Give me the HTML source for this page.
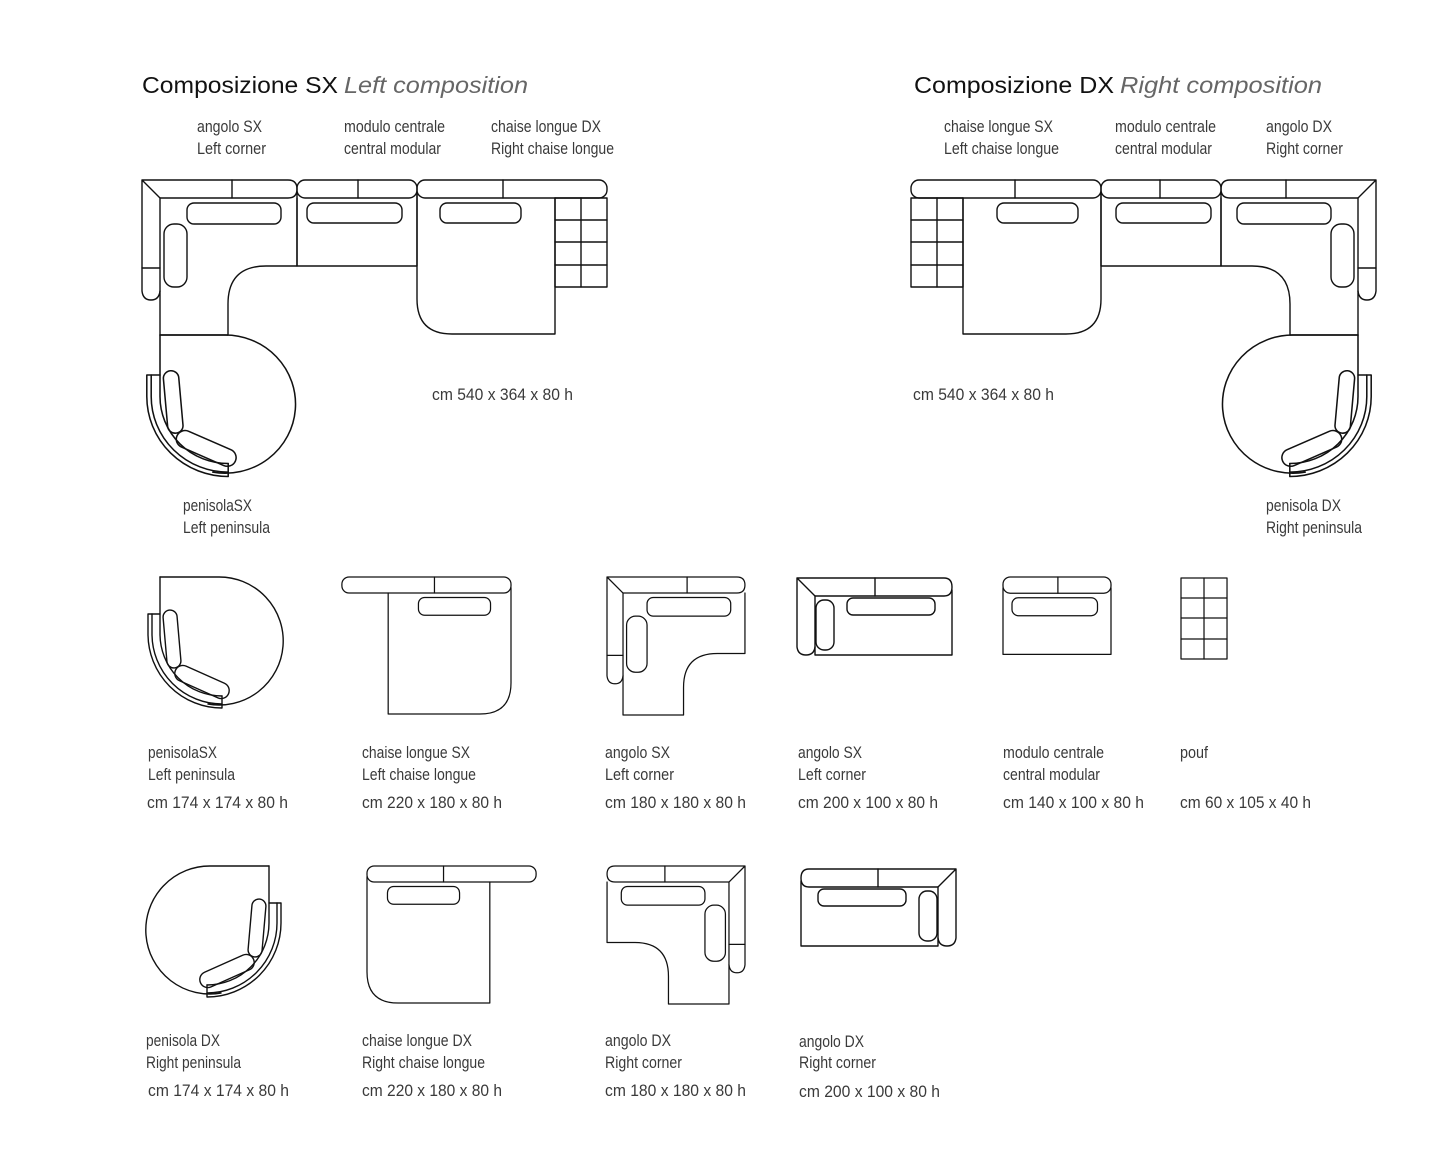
<!DOCTYPE html>
<html><head><meta charset="utf-8">
<style>
html,body{margin:0;padding:0;background:#fff;}
svg{display:block;}
.l{fill:none;stroke:#111;stroke-width:1.4;stroke-linejoin:round;stroke-linecap:round;}
.l *{vector-effect:non-scaling-stroke;}
.t{font-family:"Liberation Sans Narrow","Liberation Sans",sans-serif;font-size:17px;fill:#3a3a3a;}
.h{font-family:"Liberation Sans",sans-serif;font-size:23px;fill:#111;}
.hi{font-family:"Liberation Sans",sans-serif;font-size:23px;font-style:italic;fill:#666;}
</style></head>
<body>
<svg width="1455" height="1158" viewBox="0 0 1455 1158" xmlns="http://www.w3.org/2000/svg">
<defs>
  <g id="A">
    <path d="M0,0 H146 Q155,0 155,9 Q155,18 146,18 H18 L0,0 V111 Q1,120 9,120 Q17,120 18,111"/>
    <path d="M0,88 H18 M90,0 V18"/>
    <path d="M18,18 V155 H86 V124 Q86,86 124,86 H155 V18"/>
    <rect x="45" y="23" width="94" height="21" rx="7"/>
    <rect x="22" y="44" width="23" height="63" rx="10"/>
  </g>
  <g id="M">
    <rect x="0" y="0" width="120" height="18" rx="8"/>
    <path d="M0,12 V86 H120 V12 M61,0 V18"/>
    <rect x="10" y="23" width="95" height="20" rx="7"/>
  </g>
  <g id="C">
    <rect x="0" y="0" width="190" height="18" rx="8"/>
    <path d="M86,0 V18 M0,12 V119 Q0,154 35,154 H138 V18"/>
    <rect x="23" y="23" width="81" height="20" rx="7"/>
  </g>
  <g id="P">
    <rect x="0" y="0" width="52" height="89"/>
    <path d="M26,0 V89 M0,22 H52 M0,44 H52 M0,67 H52"/>
  </g>
  <g id="N">
    <path d="M0,0 H58 A64,64 0 1 1 48,127"/>
    <path d="M0,0 V57 A62,62 0 0 0 62,119"/>
    <path d="M-8,37 V57 A70,70 0 0 0 62,127"/>
    <path d="M-12,37 V57 A74,74 0 0 0 62,131 V119 M-12,37 H0"/>
    <rect x="5" y="33" width="14" height="58" rx="7" transform="rotate(-5 12 62)"/>
    <rect x="-29" y="-8" width="58" height="16" rx="8" transform="translate(42,105) rotate(24)"/>
  </g>
  <g id="B">
    <path d="M0,0 H147 Q155,0 155,9 Q155,18 147,18 H18 L0,0 V69 Q1,77 9,77 Q17,77 18,69"/>
    <path d="M18,18 V77 H155 V12 M78,0 V18"/>
    <rect x="19" y="22" width="18" height="50" rx="8"/>
    <rect x="50" y="20" width="88" height="17" rx="6"/>
  </g>
  <g id="GSX">
    <use href="#A" transform="translate(142,180)"/>
    <use href="#M" transform="translate(297,180)"/>
    <use href="#C" transform="translate(417,180)"/>
    <use href="#P" transform="translate(555,198)"/>
    <use href="#N" transform="translate(160,335) scale(1.1,1.08)"/>
  </g>
</defs>

<g class="l">
  <use href="#GSX"/>
  <use href="#GSX" transform="translate(1518,0) scale(-1,1)"/>
  <use href="#N" transform="translate(160,577)"/>
  <use href="#C" transform="translate(511,577) scale(-0.89,0.89)"/>
  <use href="#A" transform="translate(607,577) scale(0.89)"/>
  <use href="#B" transform="translate(797,578)"/>
  <use href="#M" transform="translate(1003,577) scale(0.9)"/>
  <use href="#P" transform="translate(1181,578) scale(0.885,0.91)"/>
  <use href="#N" transform="translate(269,866) scale(-1,1)"/>
  <use href="#C" transform="translate(367,866) scale(0.89)"/>
  <use href="#A" transform="translate(745,866) scale(-0.89,0.89)"/>
  <use href="#B" transform="translate(956,869) scale(-1,1)"/>
</g>

<text class="h" x="142" y="93" textLength="196" lengthAdjust="spacingAndGlyphs">Composizione SX</text>
<text class="hi" x="344" y="93" textLength="184" lengthAdjust="spacingAndGlyphs">Left composition</text>
<text class="h" x="914" y="93" textLength="200" lengthAdjust="spacingAndGlyphs">Composizione DX</text>
<text class="hi" x="1120" y="93" textLength="202" lengthAdjust="spacingAndGlyphs">Right composition</text>

<g class="t">
<text x="197" y="132" textLength="65" lengthAdjust="spacingAndGlyphs">angolo SX</text>
<text x="197" y="154" textLength="69" lengthAdjust="spacingAndGlyphs">Left corner</text>
<text x="344" y="132" textLength="101" lengthAdjust="spacingAndGlyphs">modulo centrale</text>
<text x="344" y="154" textLength="97" lengthAdjust="spacingAndGlyphs">central modular</text>
<text x="491" y="132" textLength="110" lengthAdjust="spacingAndGlyphs">chaise longue DX</text>
<text x="491" y="154" textLength="123" lengthAdjust="spacingAndGlyphs">Right chaise longue</text>

<text x="944" y="132" textLength="109" lengthAdjust="spacingAndGlyphs">chaise longue SX</text>
<text x="944" y="154" textLength="115" lengthAdjust="spacingAndGlyphs">Left chaise longue</text>
<text x="1115" y="132" textLength="101" lengthAdjust="spacingAndGlyphs">modulo centrale</text>
<text x="1115" y="154" textLength="97" lengthAdjust="spacingAndGlyphs">central modular</text>
<text x="1266" y="132" textLength="66" lengthAdjust="spacingAndGlyphs">angolo DX</text>
<text x="1266" y="154" textLength="77" lengthAdjust="spacingAndGlyphs">Right corner</text>

<text x="432" y="400" textLength="141" lengthAdjust="spacingAndGlyphs">cm 540 x 364 x 80 h</text>
<text x="913" y="400" textLength="141" lengthAdjust="spacingAndGlyphs">cm 540 x 364 x 80 h</text>

<text x="183" y="511" textLength="69" lengthAdjust="spacingAndGlyphs">penisolaSX</text>
<text x="183" y="533" textLength="87" lengthAdjust="spacingAndGlyphs">Left peninsula</text>
<text x="1266" y="511" textLength="75" lengthAdjust="spacingAndGlyphs">penisola DX</text>
<text x="1266" y="533" textLength="96" lengthAdjust="spacingAndGlyphs">Right peninsula</text>

<text x="148" y="758" textLength="69" lengthAdjust="spacingAndGlyphs">penisolaSX</text>
<text x="148" y="780" textLength="87" lengthAdjust="spacingAndGlyphs">Left peninsula</text>
<text x="147" y="808" textLength="141" lengthAdjust="spacingAndGlyphs">cm 174 x 174 x 80 h</text>
<text x="362" y="758" textLength="108" lengthAdjust="spacingAndGlyphs">chaise longue SX</text>
<text x="362" y="780" textLength="114" lengthAdjust="spacingAndGlyphs">Left chaise longue</text>
<text x="362" y="808" textLength="140" lengthAdjust="spacingAndGlyphs">cm 220 x 180 x 80 h</text>
<text x="605" y="758" textLength="65" lengthAdjust="spacingAndGlyphs">angolo SX</text>
<text x="605" y="780" textLength="69" lengthAdjust="spacingAndGlyphs">Left corner</text>
<text x="605" y="808" textLength="141" lengthAdjust="spacingAndGlyphs">cm 180 x 180 x 80 h</text>
<text x="798" y="758" textLength="64" lengthAdjust="spacingAndGlyphs">angolo SX</text>
<text x="798" y="780" textLength="68" lengthAdjust="spacingAndGlyphs">Left corner</text>
<text x="798" y="808" textLength="140" lengthAdjust="spacingAndGlyphs">cm 200 x 100 x 80 h</text>
<text x="1003" y="758" textLength="101" lengthAdjust="spacingAndGlyphs">modulo centrale</text>
<text x="1003" y="780" textLength="97" lengthAdjust="spacingAndGlyphs">central modular</text>
<text x="1003" y="808" textLength="141" lengthAdjust="spacingAndGlyphs">cm 140 x 100 x 80 h</text>
<text x="1180" y="758" textLength="28" lengthAdjust="spacingAndGlyphs">pouf</text>
<text x="1180" y="808" textLength="131" lengthAdjust="spacingAndGlyphs">cm 60 x 105 x 40 h</text>

<text x="146" y="1046" textLength="74" lengthAdjust="spacingAndGlyphs">penisola DX</text>
<text x="146" y="1068" textLength="95" lengthAdjust="spacingAndGlyphs">Right peninsula</text>
<text x="148" y="1096" textLength="141" lengthAdjust="spacingAndGlyphs">cm 174 x 174 x 80 h</text>
<text x="362" y="1046" textLength="110" lengthAdjust="spacingAndGlyphs">chaise longue DX</text>
<text x="362" y="1068" textLength="123" lengthAdjust="spacingAndGlyphs">Right chaise longue</text>
<text x="362" y="1096" textLength="140" lengthAdjust="spacingAndGlyphs">cm 220 x 180 x 80 h</text>
<text x="605" y="1046" textLength="66" lengthAdjust="spacingAndGlyphs">angolo DX</text>
<text x="605" y="1068" textLength="77" lengthAdjust="spacingAndGlyphs">Right corner</text>
<text x="605" y="1096" textLength="141" lengthAdjust="spacingAndGlyphs">cm 180 x 180 x 80 h</text>
<text x="799" y="1047" textLength="65" lengthAdjust="spacingAndGlyphs">angolo DX</text>
<text x="799" y="1068" textLength="77" lengthAdjust="spacingAndGlyphs">Right corner</text>
<text x="799" y="1097" textLength="141" lengthAdjust="spacingAndGlyphs">cm 200 x 100 x 80 h</text>
</g>
</svg>
</body></html>
